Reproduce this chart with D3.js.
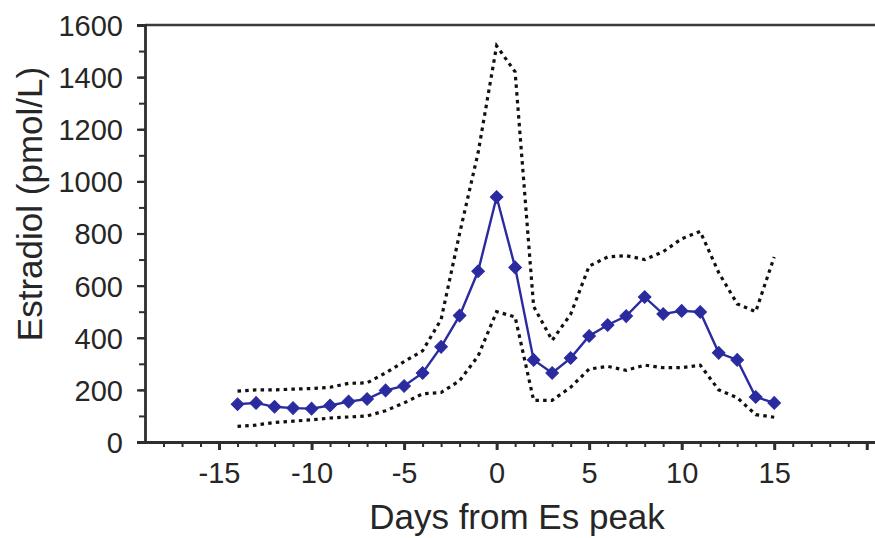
<!DOCTYPE html>
<html>
<head>
<meta charset="utf-8">
<script src="https://cdn.jsdelivr.net/npm/d3@7"></script>
<style>
  html, body { margin: 0; padding: 0; background: #fff; }
  svg { display: block; font-family: "Liberation Sans", Arial, sans-serif; }
</style>
</head>
<body>
<svg id="chart" width="875" height="538"></svg>
<script>
// ---- data ----
const days = [-14,-13,-12,-11,-10,-9,-8,-7,-6,-5,-4,-3,-2,-1,0,1,2,3,4,5,6,7,8,9,10,11,12,13,14,15];
const meanValues = [145,150,135,130,128,140,155,165,198,215,265,365,485,655,940,670,315,265,322,407,449,483,556,491,503,499,342,315,173,150];
const upperValues = [195,200,200,203,205,210,225,227,265,308,350,470,800,1110,1520,1420,520,390,490,675,710,715,700,730,780,808,650,530,500,710];
const lowerValues = [60,65,75,80,85,92,96,100,120,150,185,190,235,330,500,480,160,160,210,280,290,275,295,285,285,295,200,170,105,95];
const yTickValues = [0,200,400,600,800,1000,1200,1400,1600];
const xTickValues = [-15,-10,-5,0,5,10,15,20];
const xTickLabels = ["-15","-10","-5","0","5","10","15",""];
const yTitle = "Estradiol (pmol/L)";
const xTitle = "Days from Es peak";

// ---- layout ----
const svg = d3.select("#chart");
const mLeft = 145, mRight = 876, mTop = 25, mBottom = 442;
const x = d3.scaleLinear().domain([-19, 20.5]).range([mLeft, mRight]);
const y = d3.scaleLinear().domain([0, 1600]).range([mBottom, mTop]);
const axisColor = "#2e2e2e";
const textColor = "#262626";
const blue = "#2b2ba0";

// top border line
svg.append("line")
  .attr("x1", mLeft).attr("x2", 875).attr("y1", y(1600)).attr("y2", y(1600))
  .attr("stroke", "#3a3a3a").attr("stroke-width", 2.5);

// y axis: minor ticks
const yAxisMinor = d3.axisLeft(y).tickValues(d3.range(0, 1601, 100)).tickSize(6).tickFormat("");
const gyMinor = svg.append("g").attr("transform", `translate(${mLeft},0)`).call(yAxisMinor);
gyMinor.select(".domain").remove();
gyMinor.selectAll("line").attr("stroke", axisColor).attr("stroke-width", 2);

// y axis: major ticks + labels
const yAxis = d3.axisLeft(y).tickValues(yTickValues).tickSize(8).tickPadding(14).tickFormat(d3.format("d"));
const gy = svg.append("g").attr("transform", `translate(${mLeft},0)`).call(yAxis);
gy.select(".domain").attr("stroke", axisColor).attr("stroke-width", 2.8);
gy.selectAll("line").attr("stroke", axisColor).attr("stroke-width", 2.2);
gy.selectAll("text").attr("font-size", 29).attr("fill", textColor)
  .attr("font-family", "Liberation Sans, Arial, sans-serif").attr("dy", "0.36em");

// x axis minor ticks
const xAxisMinor = d3.axisBottom(x).tickValues(d3.range(-18, 21, 1)).tickSize(5).tickFormat("");
const gxMinor = svg.append("g").attr("transform", `translate(0,${mBottom})`).call(xAxisMinor);
gxMinor.select(".domain").remove();
gxMinor.selectAll("line").attr("stroke", axisColor).attr("stroke-width", 2);

// x axis major
const xAxis = d3.axisBottom(x).tickValues(xTickValues).tickSize(8).tickPadding(12)
  .tickFormat((d, i) => xTickLabels[i]);
const gx = svg.append("g").attr("transform", `translate(0,${mBottom})`).call(xAxis);
gx.select(".domain").attr("stroke", axisColor).attr("stroke-width", 2.8)
  .attr("d", `M${mLeft},0.5H875`);
gx.selectAll("line").attr("stroke", axisColor).attr("stroke-width", 3);
gx.selectAll("text").attr("font-size", 29).attr("fill", textColor)
  .attr("font-family", "Liberation Sans, Arial, sans-serif");

// axis titles
svg.append("text")
  .attr("x", 517).attr("y", 529)
  .attr("text-anchor", "middle")
  .attr("font-size", 35).attr("fill", textColor)
  .text(xTitle);
svg.append("text")
  .attr("transform", `translate(42,${204}) rotate(-90)`)
  .attr("text-anchor", "middle")
  .attr("font-size", 35).attr("fill", textColor)
  .text(yTitle);

// data lines
const line = d3.line().x((d, i) => x(days[i])).y(d => y(d));
[upperValues, lowerValues].forEach(vals => {
  svg.append("path")
    .attr("d", line(vals))
    .attr("fill", "none")
    .attr("stroke", "#111")
    .attr("stroke-width", 3.2)
    .attr("stroke-dasharray", "3.5,4.2");
});

svg.append("path")
  .attr("d", line(meanValues))
  .attr("fill", "none")
  .attr("stroke", blue)
  .attr("stroke-width", 2.4);

const diamond = d3.symbol().type(d3.symbolSquare).size(80);
svg.append("g").selectAll("path")
  .data(meanValues)
  .join("path")
  .attr("d", diamond)
  .attr("transform", (d, i) => `translate(${x(days[i])},${y(d)}) rotate(45)`)
  .attr("fill", blue)
  .attr("stroke", blue)
  .attr("stroke-width", 1);
</script>
</body>
</html>
